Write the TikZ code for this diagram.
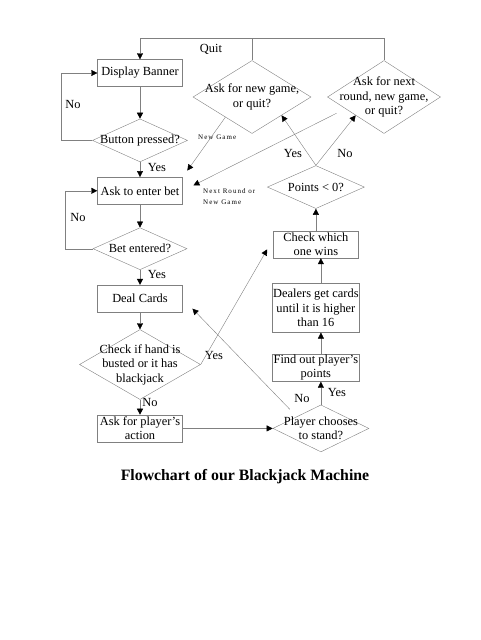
\documentclass[tikz,border=0pt]{standalone}
\usepackage{fontspec}
\setmainfont{Liberation Serif}
\usetikzlibrary{positioning,shapes.geometric,arrows.meta,calc}

\tikzset{
  box/.style={draw=gray, minimum width=85pt, minimum height=27pt, inner sep=1pt, align=center},
  dia/.style={draw=gray, diamond, inner sep=-20pt, align=center},
  line/.style={draw=gray, -{Triangle[color=black,length=6pt,width=6pt]}},
  note/.style={font=\fontsize{7}{11}\selectfont\addfontfeature{LetterSpace=15}, align=left, inner sep=0pt}
}

\begin{document}
\begin{tikzpicture}[x=1pt, y=-1pt, font=\fontsize{12.4}{14.5}\selectfont]
                \useasboundingbox (0,0) rectangle (480,640);
                \node [box] (banner) at (140,73) {Display Banner};
                \node [dia, minimum width=95pt, minimum height=43pt, below=32pt of banner] (pressed) {Button pressed?};
                \node [box, below=15pt of pressed] (bet) {Ask to enter bet};
                \node [dia, minimum width=94pt, minimum height=42pt, below=23pt of bet] (entered) {Bet entered?};
                \node [box, below=15pt of entered] (deal) {Deal Cards};
                \node [dia, minimum width=121pt, minimum height=70pt, below=17pt of deal] (busted) {Check if hand is\\busted or it has\\blackjack};
                \node [box, below=15pt of busted] (action) {Ask for player’s\\action};
                \node [dia, minimum width=96pt, minimum height=47pt, right=90pt of action] (stand) {Player chooses\\to stand?};
                \node [box, above=23pt of stand, xshift=-5pt] (points) {Find out player’s\\points};
                \node [box, minimum height=49pt, above=21pt of points] (dealer) {Dealers get cards\\until it is higher\\than 16};
                \node [box, above=25pt of dealer] (wins) {Check which\\one wins};
                \node [dia, minimum width=97pt, minimum height=43pt, above=22pt of wins] (negative) {Points < 0?};
                \node [dia, minimum width=118pt, minimum height=73pt] (newgame) at (252,97) {Ask for new game,\\or quit?};
                \node [dia, minimum width=113pt, minimum height=73pt] (nextround) at (384,97) {Ask for next\\round, new game,\\or quit?};
                \coordinate (quitline) at (0,38);
                \node (quit) at (211,49) {Quit};
                \node (no1) at (73,104) {No};
                \node (yes1) at (157,167) {Yes};
                \node (no2) at (78,217) {No};
                \node (yes2) at (157,274) {Yes};
                \node (yes3) at (214,355) {Yes};
                \node (no3) at (150,402) {No};
                \node (no4) at (302,398) {No};
                \node (yes4) at (337,392) {Yes};
                \node (yes5) at (293,153) {Yes};
                \node (no5) at (345,153) {No};
                \node [note, anchor=west] (newnote) at (198,137) {New Game};
                \node [note, anchor=west] (nextnote) at (203,196.5) {Next Round or\\New Game};
                \node [font=\fontsize{15.8}{18}\selectfont\bfseries] (title) at (245,477) {Flowchart of our Blackjack Machine};
                \draw [line] (banner) -- (pressed);
                \draw [line] (pressed.west) -- ++(-31pt,0) |- (banner.west);
                \draw [line] (pressed) -- (bet);
                \draw [line] (bet) -- (entered);
                \draw [line] (entered.west) -- ++(-28pt,0) |- (bet.west);
                \draw [line] (entered) -- (deal);
                \draw [line] (deal) -- (busted);
                \draw [line] (busted) -- (action);
                \draw [line] (action) -- (stand);
                \draw [line, shorten >=12pt] (busted.east) -- ($(wins.north west)!0.3!(wins.south west)$);
                \draw [line] (stand.north) -- (stand.north |- points.south);
                \draw [line] (stand.north |- points.north) -- (stand.north |- dealer.south);
                \draw [line] (stand.north |- dealer.north) -- (stand.north |- wins.south);
                \draw [line] (wins) -- (negative);
                \draw [line] (negative.north) -- (newgame.south east);
                \draw [line] (negative.north) -- (nextround.south west);
                \draw [line, shorten <=10pt, shorten >=14pt] (stand.north west) -- (deal.east);
                \draw [line, shorten >=8pt] ($(newgame.west)!0.55!(newgame.south)$) -- (bet.north east);
                \draw [line, shorten <=10pt, shorten >=12pt] ($(nextround.west)!0.32!(nextround.south)$) -- (bet.east);
                \draw [line] (nextround.north) |- (banner.north |- quitline) -- (banner.north);
                \draw [gray] (newgame.north) -- (newgame.north |- quitline);
            \end{tikzpicture}
\end{document}
